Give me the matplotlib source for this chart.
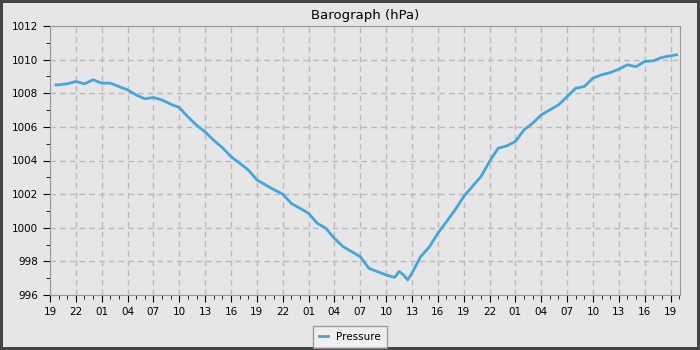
# Barograph chart
import matplotlib
matplotlib.use("Agg")
import matplotlib.pyplot as plt
from matplotlib.ticker import MultipleLocator, FuncFormatter

# hours since 19:00 on day one
hours = [0.7, 1, 2, 3, 4, 5, 6, 7, 8, 9, 10, 11, 12, 13, 14, 15, 16, 17, 18, 19,
         20, 21, 22, 23, 24, 25, 26, 27, 28, 29, 30, 31, 32, 33, 34, 35, 36, 37, 38,
         39, 40, 40.5, 41, 41.5, 42, 43, 44, 45, 46, 47, 48, 49, 50, 51, 52, 53, 54,
         55, 56, 57, 58, 59, 60, 61, 62, 63, 64, 65, 66, 67, 68, 69, 70, 71, 72, 72.7]
pressure = [1008.5, 1008.5, 1008.56, 1008.7, 1008.56, 1008.8, 1008.6, 1008.6, 1008.4, 1008.2,
            1007.9, 1007.67, 1007.75, 1007.6, 1007.35, 1007.15, 1006.6, 1006.1, 1005.7, 1005.2,
            1004.77, 1004.23, 1003.84, 1003.44, 1002.85, 1002.55, 1002.26, 1002.0, 1001.45, 1001.16,
            1000.86, 1000.27, 999.97, 999.37, 998.88, 998.58, 998.28, 997.59, 997.39,
            997.19, 997.05, 997.4, 997.2, 996.9, 997.3, 998.28, 998.85, 999.67, 1000.36, 1001.06,
            1001.85, 1002.45, 1003.04, 1003.94, 1004.73, 1004.87, 1005.13,
            1005.82, 1006.22, 1006.71, 1007.01, 1007.31, 1007.8, 1008.3, 1008.4, 1008.9, 1009.1,
            1009.23, 1009.43, 1009.69, 1009.58, 1009.89, 1009.93, 1010.13, 1010.23, 1010.29]

start_hour = 19
bg = "#e6e6e6"
blue = "#45a5dc"

fig = plt.figure(figsize=(7, 3.5), dpi=100, facecolor=bg,
                 edgecolor="#444444", linewidth=4)
ax = fig.add_axes([50/700, 55/350, 630/700, 269/350])
ax.set_facecolor(bg)

ax.plot(hours, pressure, color=blue, lw=2, label="Pressure")

ax.set_xlim(0, 73.1)
ax.set_ylim(996, 1012)
ax.xaxis.set_major_locator(MultipleLocator(3))
ax.xaxis.set_minor_locator(MultipleLocator(1))
ax.xaxis.set_major_formatter(FuncFormatter(lambda v, p: "%02d" % ((start_hour + int(round(v))) % 24)))
ax.yaxis.set_major_locator(MultipleLocator(2))
ax.yaxis.set_minor_locator(MultipleLocator(1))

ax.grid(True, which="major", color="#bbbbbb", linestyle=(0, (4, 3)), lw=1)
for s in ax.spines.values():
    s.set_color("#999999")
ax.tick_params(which="major", length=5, labelsize=7.5, colors="black")
ax.tick_params(which="minor", length=3, colors="black")

ax.set_title("Barograph (hPa)", fontsize=9.5, pad=5)

leg = fig.legend(loc="lower center", bbox_to_anchor=(0.5, -0.01), fontsize=7.5,
                 frameon=True, fancybox=False, handlelength=0.9, borderpad=0.6,
                 edgecolor="#888888")
leg.get_frame().set_facecolor("#f2f2f2")

fig.savefig("out.png", dpi=100, facecolor=fig.get_facecolor(), edgecolor=fig.get_edgecolor())
